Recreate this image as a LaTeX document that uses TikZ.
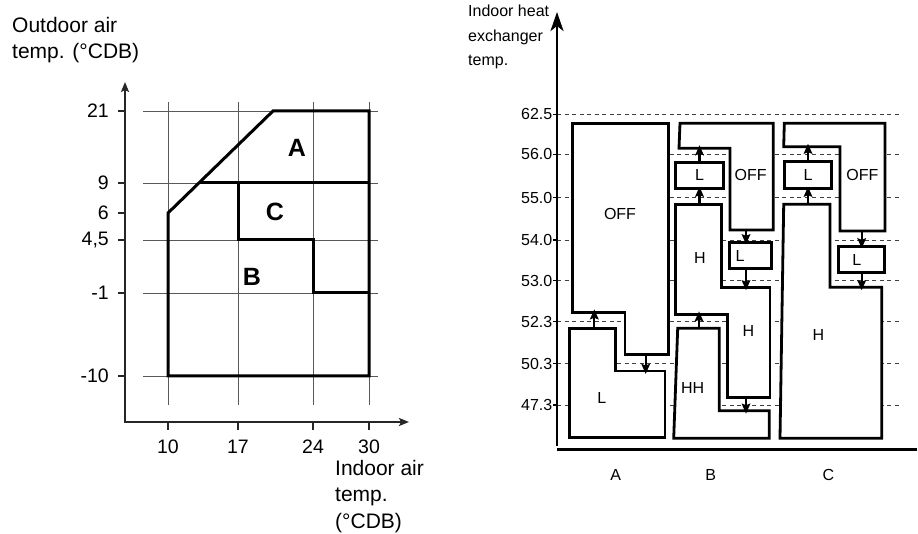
\documentclass[tikz,border=0pt]{standalone}
\usepackage{fontspec}
\setmainfont{Liberation Sans}
\usetikzlibrary{arrows.meta}
\newcommand\lblfont{\fontsize{21}{26.5}\selectfont}
\newcommand\tckfont{\fontsize{19.5}{22}\selectfont}
\newcommand\chtfont{\fontsize{16}{24.5}\selectfont}
\newcommand\zonefont{\fontsize{25}{28}\selectfont\bfseries}

\begin{document}
\begin{tikzpicture}[x=1pt,y=-1pt,
grd/.style={line width=0.9pt,black!65},
region/.style={draw,line width=3pt},
blk/.style={draw,fill=white,line width=2.8pt},
box/.style={draw,fill=white,line width=2.8pt,inner sep=0pt,font=\chtfont},
arr/.style={-{Stealth[length=10pt,width=8.5pt,inset=1.5pt]},line width=2.2pt,shorten >=-3pt},
lvl/.style={black!75,line width=0.9pt,dash pattern=on 4pt off 3.5pt},
axl/.style={line width=2pt,black!85}]
\useasboundingbox (0,0) rectangle (918,534);
\foreach \x in {168,238,313,369} \draw[grd] (\x,102) -- (\x,405);
\foreach \y in {111,183,240,293,376} \draw[grd] (143,\y) -- (378,\y);
\draw[region] (168,376) -- (168,213) -- (273,111) -- (369,111) -- (369,376) -- cycle;
\draw[region] (199,183) -- (369,183);
\draw[region] (238,183) -- (238,240) -- (313,240) -- (313,293) -- (369,293);
\node[font=\zonefont] (zA) at (297,148) {A};
\node[font=\zonefont] (zC) at (275,212) {C};
\node[font=\zonefont] (zB) at (252,277) {B};
\draw[axl,-{Stealth[length=10pt,width=8pt,inset=2pt]}] (125,422) -- (125,82);
\draw[axl,-{Stealth[length=10pt,width=8pt,inset=2pt]}] (124,422) -- (409,422);
\foreach \y/\lab [count=\i] in {111/21,183/9,213/6,240/{4,5},293/-1,376/-10} {
  \draw[axl] (118,\y) -- (125,\y);
  \node[font=\tckfont,anchor=east,inner sep=0pt] (ty\i) at (109,\y) {\lab};
}
\foreach \x/\lab [count=\i] in {168/10,238/17,313/24,369/30} {
  \draw[axl] (\x,422) -- (\x,430);
  \node[font=\tckfont,inner sep=0pt] (tx\i) at (\x,447) {\lab};
}
\node[font=\lblfont,align=left,anchor=north west,inner sep=0pt] (ytitle) at (12,17) {Outdoor air\\temp. (°CDB)};
\node[font=\lblfont,align=left,anchor=north west,inner sep=0pt] (xtitle) at (335,460) {Indoor air\\temp.\\(°CDB)};

\foreach \y/\lab [count=\i] in {114.3/62.5,154.3/56.0,197.7/55.0,240/54.0,280.7/53.0,321.7/52.3,363.7/50.3,405/47.3} {
  \draw[lvl] (557,\y) -- (900,\y);
  \draw[line width=1.3pt] (553,\y) -- (557,\y);
  \node[font=\chtfont,anchor=east,inner sep=0pt] (lv\i) at (552.5,\y) {\lab};
}
\draw[line width=2.6pt,-{Stealth[length=19pt,width=13pt,inset=5pt]}] (557,446) -- (557,12);
\draw[line width=2.6pt] (557,449.5) -- (917,449.5);
\node[font=\chtfont,align=left,anchor=north west,inner sep=0pt] (ztitle) at (468,5.2) {Indoor heat\\exchanger\\temp.};

\draw[blk] (572.3,123.3) -- (668.3,123.3) -- (668.3,354.3) -- (625,354.3) -- (625,312.3) -- (572.3,312.3) -- cycle;
\draw[blk] (569.7,328.3) -- (615.7,328.3) -- (615.7,371) -- (665,371) -- (665,437.3) -- (569.7,437.3) -- cycle;
\draw[blk] (680,123.3) -- (773.3,123.3) -- (773.3,230) -- (730,230) -- (730,148.3) -- (679,148.3) -- cycle;
\draw[blk] (675.7,204.3) -- (721.5,204.3) -- (721.5,287.3) -- (770,287.3) -- (770,397.3) -- (727.3,397.3) -- (727.3,314.3) -- (675.7,314.3) -- cycle;
\draw[blk] (677.7,328.3) -- (719.3,328.3) -- (719.3,410.7) -- (769.3,410.7) -- (769.3,438.3) -- (673.7,438.3) -- cycle;
\draw[blk] (784.3,123.3) -- (885,123.3) -- (885,231) -- (840,231) -- (840,146.7) -- (783.7,146.7) -- cycle;
\draw[blk] (783.7,204.3) -- (830,204.3) -- (830,287.3) -- (881.7,287.3) -- (881.7,438.3) -- (780,438.3) -- cycle;
\node[box,minimum width=47.6pt,minimum height=26pt] (bl1) at (699.5,175.3) {L};
\node[box,minimum width=42.4pt,minimum height=26pt,text width=30pt,align=left] (bl2) at (750.5,255.7) {L};
\node[box,minimum width=47.4pt,minimum height=26.6pt] (cl1) at (808,175) {L};
\node[box,minimum width=46pt,minimum height=25.6pt,text width=18pt,align=left] (cl2) at (861.3,259.5) {L};
\node[font=\chtfont] (aoff) at (620,214) {OFF};
\node[font=\chtfont] (alow) at (601.7,397.7) {L};
\node[font=\chtfont] (boff) at (750.7,175) {OFF};
\node[font=\chtfont] (bhi1) at (700,258.3) {H};
\node[font=\chtfont] (bhi2) at (748.3,330.7) {H};
\node[font=\chtfont] (bhh) at (692.7,388.3) {HH};
\node[font=\chtfont] (coff) at (862.3,175) {OFF};
\node[font=\chtfont] (chi) at (818.3,335) {H};
\node[font=\chtfont] (ca) at (615.7,475) {A};
\node[font=\chtfont] (cb) at (710.7,475) {B};
\node[font=\chtfont] (cc) at (828.3,475) {C};

\coordinate (alt) at (594.3,328.3); \coordinate (aob) at (594.3,312.3);
\coordinate (aos) at (645.7,354.3); \coordinate (als) at (645.7,371);
\coordinate (bon) at (699.5,148.3); \coordinate (bht) at (699.5,204.3);
\coordinate (bob) at (746,230);     \coordinate (bhs) at (746,287.3);
\coordinate (bhn) at (699,314.3);   \coordinate (bhht) at (699,328.3);
\coordinate (bhb) at (746,397.3);   \coordinate (bhhs) at (746,410.7);
\coordinate (con) at (808,146.7);   \coordinate (cht) at (808,204.3);
\coordinate (cob) at (861.7,231);   \coordinate (chs) at (861.7,287.3);
\draw[arr] (alt) -- (aob);
\draw[arr] (aos) -- (als);
\draw[arr] (bl1.north) -- (bon);
\draw[arr] (bht) -- (bl1.south);
\draw[arr] (bob) -- (bob |- bl2.north);
\draw[arr] (bob |- bl2.south) -- (bhs);
\draw[arr] (bhht) -- (bhn);
\draw[arr] (bhb) -- (bhhs);
\draw[arr] (cl1.north) -- (con);
\draw[arr] (cht) -- (cl1.south);
\draw[arr] (cob) -- (cob |- cl2.north);
\draw[arr] (cob |- cl2.south) -- (chs);
\end{tikzpicture}
\end{document}
